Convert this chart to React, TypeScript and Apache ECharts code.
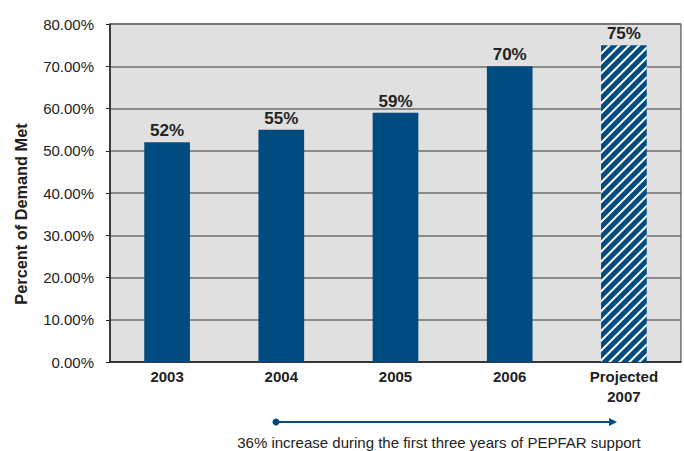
import React, { useEffect, useRef } from "react";
import * as echarts from "echarts";

const categories = ["2003", "2004", "2005", "2006", "Projected\n2007"];
const demandMet = [52, 55, 59, 70, 75];
const projectedIndex = 4;
const yTicks = { min: 0, max: 80, interval: 10 };
const yTitle = "Percent of Demand Met";
const note = "36% increase during the first three years of PEPFAR support";

const BLUE = "#004b80";
const FONT = "'Liberation Sans', Arial, sans-serif";

export default function App() {
  const ref = useRef<HTMLDivElement>(null);

  useEffect(() => {
    if (!ref.current) return;
    const chart = echarts.init(ref.current, undefined, { renderer: "svg" });

    const data = demandMet.map((v, i) =>
      i === projectedIndex
        ? {
            value: v,
            itemStyle: {
              color: BLUE,
              decal: {
                symbol: "rect",
                symbolSize: 1,
                color: "#ffffff",
                dashArrayX: [1, 0],
                dashArrayY: [2, 4.5],
                rotation: -Math.PI / 4,
              },
            },
          }
        : { value: v }
    );

    chart.setOption({
      animation: false,
      aria: { enabled: false, decal: { show: false } },
      grid: {
        left: 110,
        right: 3,
        top: 24,
        bottom: 89,
        show: true,
        backgroundColor: "#e0e0e0",
        borderColor: "#333",
        borderWidth: 1,
      },
      xAxis: {
        type: "category",
        data: categories,
        axisLine: { lineStyle: { color: "#222", width: 1.5 } },
        axisTick: { show: false },
        axisLabel: {
          color: "#222",
          fontFamily: FONT,
          fontWeight: "bold",
          fontSize: 15,
          lineHeight: 20,
          margin: 4,
        },
      },
      yAxis: {
        type: "value",
        min: yTicks.min,
        max: yTicks.max,
        interval: yTicks.interval,
        axisLine: { show: true, lineStyle: { color: "#222", width: 1.5 } },
        axisTick: { show: true, length: 4, lineStyle: { color: "#222" } },
        axisLabel: {
          color: "#222",
          fontFamily: FONT,
          fontSize: 15,
          margin: 16,
          formatter: (v: number) => v.toFixed(2) + "%",
        },
        splitLine: { lineStyle: { color: "#6e6e6e", width: 1.5 } },
      },
      series: [
        {
          type: "bar",
          data,
          barWidth: "40%",
          itemStyle: { color: BLUE },
          label: {
            show: true,
            position: "top",
            distance: 3,
            color: "#222",
            fontFamily: FONT,
            fontWeight: "bold",
            fontSize: 17,
            formatter: (p: any) => p.value + "%",
          },
        },
      ],
      graphic: [
        {
          type: "text",
          x: 21,
          y: 214,
          rotation: Math.PI / 2,
          scaleX: 1.02,
          style: {
            text: yTitle,
            fill: "#222",
            font: `bold 16px ${FONT}`,
            align: "center",
            verticalAlign: "middle",
          },
        },
        {
          type: "line",
          shape: { x1: 276, y1: 422, x2: 612, y2: 422 },
          style: { stroke: BLUE, lineWidth: 2 },
        },
        {
          type: "circle",
          shape: { cx: 276, cy: 422, r: 3.5 },
          style: { fill: BLUE },
        },
        {
          type: "polygon",
          shape: {
            points: [
              [609, 418],
              [617, 422],
              [609, 426],
            ],
          },
          style: { fill: BLUE },
        },
        {
          type: "text",
          x: 439,
          y: 442,
          style: {
            text: note,
            fill: "#222",
            font: `15px ${FONT}`,
            align: "center",
            verticalAlign: "middle",
          },
        },
      ],
    });

    return () => chart.dispose();
  }, []);

  return (
    <div
      ref={ref}
      style={{ position: "fixed", left: 0, top: 0, width: 684, height: 451, background: "#fff" }}
    />
  );
}
